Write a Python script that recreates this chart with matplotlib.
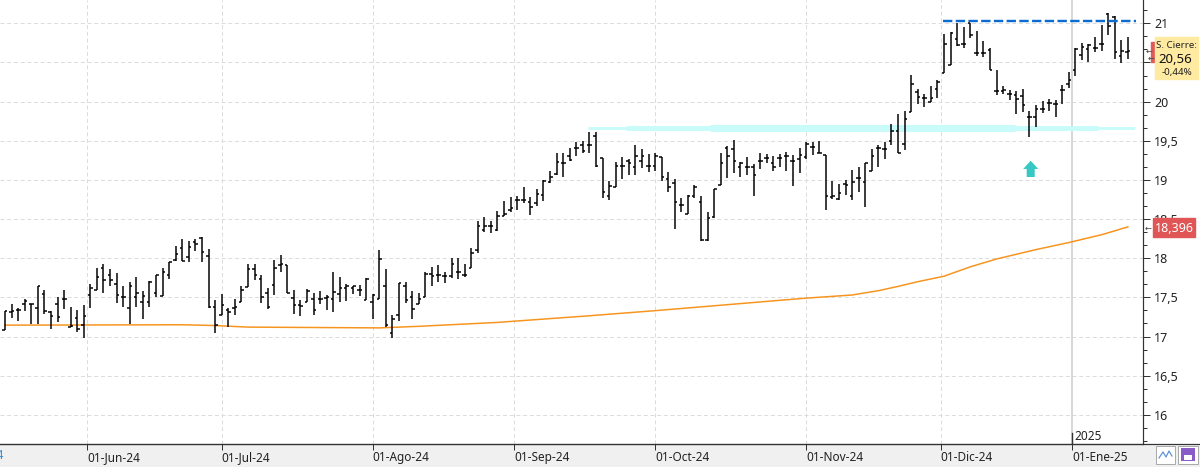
import matplotlib
matplotlib.use("Agg")
import matplotlib.pyplot as plt
import numpy as np
import pandas as pd
from matplotlib.patches import Rectangle, FancyArrow
from matplotlib.ticker import MultipleLocator, FuncFormatter

# daily OHLC, 15-May-24 .. 14-Jan-25
opens = [
    17.08, 17.31, 17.34, 17.42, 17.41, 17.36, 17.54, 17.31, 17.42, 17.48,
    17.12, 17.23, 17.15, 17.53, 17.59, 17.87, 17.79, 17.67, 17.50, 17.37,
    17.51, 17.44, 17.44, 17.55, 17.52, 17.79, 17.98, 18.13, 18.02, 18.21,
    18.26, 18.03, 17.38, 17.27, 17.34, 17.36, 17.44, 17.63, 17.86, 17.74,
    17.55, 17.66, 17.91, 17.91, 17.49, 17.40, 17.44, 17.48, 17.48, 17.49,
    17.48, 17.54, 17.62, 17.62, 17.60, 17.47, 17.44, 17.48, 17.65, 17.05,
    17.28, 17.65, 17.51, 17.42, 17.50, 17.80, 17.79, 17.77, 17.77, 17.82,
    17.79, 17.88, 18.10, 18.36, 18.41, 18.36, 18.54, 18.62, 18.74, 18.74,
    18.72, 18.70, 18.81, 18.97, 19.08, 19.21, 19.30, 19.41, 19.44, 19.45,
    19.56, 19.28, 18.79, 18.91, 19.18, 19.24, 19.17, 19.24, 19.18, 19.18,
    19.29, 19.01, 18.96, 18.68, 18.56, 18.79, 18.72, 18.23, 18.53, 18.93,
    19.41, 19.40, 19.17, 19.16, 19.17, 19.24, 19.28, 19.21, 19.28, 19.30,
    19.24, 19.27, 19.29, 19.42, 19.35, 19.32, 18.78, 18.76, 18.95, 18.80,
    19.03, 18.97, 19.11, 19.41, 19.40, 19.50, 19.62, 19.46, 19.87, 20.12,
    20.04, 20.00, 20.16, 20.37, 20.47, 20.80, 20.74, 21.00, 20.62, 20.62,
    20.66, 20.13, 20.13, 20.10, 20.08, 20.07, 19.81, 19.80, 19.90, 19.98,
    19.97, 20.15, 20.22, 20.41, 20.59, 20.67, 20.69, 20.74, 21.12, 21.08,
    20.58, 20.64,
]
highs = [
    17.33, 17.42, 17.36, 17.48, 17.42, 17.65, 17.59, 17.32, 17.50, 17.60,
    17.38, 17.34, 17.40, 17.67, 17.88, 17.92, 17.86, 17.81, 17.64, 17.69,
    17.76, 17.58, 17.71, 17.79, 17.88, 17.95, 18.16, 18.24, 18.22, 18.24,
    18.27, 18.12, 17.47, 17.54, 17.36, 17.48, 17.65, 17.93, 17.92, 17.78,
    17.62, 17.98, 18.04, 17.91, 17.59, 17.47, 17.61, 17.56, 17.58, 17.53,
    17.82, 17.76, 17.67, 17.65, 17.66, 17.75, 17.54, 18.11, 17.86, 17.27,
    17.68, 17.69, 17.58, 17.56, 17.82, 17.89, 17.91, 17.82, 18.00, 18.00,
    17.92, 18.13, 18.47, 18.52, 18.47, 18.60, 18.73, 18.78, 18.79, 18.91,
    18.78, 18.88, 19.00, 19.12, 19.35, 19.34, 19.41, 19.48, 19.50, 19.61,
    19.61, 19.28, 18.98, 19.23, 19.29, 19.27, 19.44, 19.39, 19.33, 19.34,
    19.29, 19.10, 19.01, 18.77, 18.81, 18.94, 18.79, 18.59, 18.88, 19.34,
    19.43, 19.51, 19.23, 19.29, 19.20, 19.34, 19.33, 19.30, 19.33, 19.36,
    19.32, 19.41, 19.48, 19.48, 19.50, 19.32, 18.99, 18.95, 19.00, 19.13,
    19.17, 19.21, 19.39, 19.44, 19.49, 19.72, 19.84, 19.88, 20.34, 20.16,
    20.10, 20.20, 20.28, 20.86, 20.89, 21.00, 20.95, 21.01, 20.90, 20.78,
    20.69, 20.40, 20.20, 20.15, 20.14, 20.16, 19.88, 19.96, 20.01, 20.03,
    20.02, 20.21, 20.38, 20.68, 20.75, 20.74, 20.82, 20.98, 21.13, 21.09,
    20.79, 20.82,
]
lows = [
    17.08, 17.24, 17.20, 17.32, 17.16, 17.16, 17.29, 17.09, 17.19, 17.35,
    17.12, 17.06, 16.98, 17.36, 17.59, 17.56, 17.65, 17.43, 17.38, 17.16,
    17.38, 17.22, 17.38, 17.51, 17.52, 17.74, 17.96, 17.97, 17.95, 18.09,
    17.95, 17.37, 17.05, 17.27, 17.12, 17.27, 17.44, 17.63, 17.72, 17.43,
    17.35, 17.53, 17.83, 17.55, 17.29, 17.26, 17.44, 17.28, 17.42, 17.34,
    17.31, 17.44, 17.45, 17.54, 17.52, 17.47, 17.22, 17.48, 17.12, 16.98,
    17.20, 17.43, 17.22, 17.42, 17.50, 17.65, 17.70, 17.68, 17.75, 17.73,
    17.76, 17.88, 18.07, 18.34, 18.32, 18.35, 18.54, 18.59, 18.62, 18.71,
    18.55, 18.67, 18.73, 18.96, 19.06, 19.04, 19.24, 19.31, 19.34, 19.35,
    19.17, 18.77, 18.74, 18.91, 19.01, 19.06, 19.06, 19.15, 19.10, 19.11,
    18.99, 18.85, 18.37, 18.59, 18.56, 18.77, 18.22, 18.22, 18.51, 18.93,
    19.02, 19.09, 19.04, 19.06, 18.80, 19.14, 19.21, 19.11, 19.17, 19.12,
    18.92, 19.09, 19.27, 19.32, 19.34, 18.62, 18.76, 18.74, 18.81, 18.74,
    18.85, 18.66, 19.11, 19.16, 19.27, 19.45, 19.34, 19.38, 19.87, 19.97,
    19.93, 20.00, 20.04, 20.36, 20.47, 20.71, 20.69, 20.81, 20.58, 20.57,
    20.41, 20.08, 20.10, 20.02, 19.84, 19.87, 19.55, 19.67, 19.85, 19.88,
    19.80, 19.97, 20.17, 20.33, 20.53, 20.51, 20.64, 20.65, 20.85, 20.54,
    20.49, 20.55,
]
closes = [
    17.32, 17.32, 17.34, 17.45, 17.42, 17.64, 17.32, 17.26, 17.25, 17.48,
    17.13, 17.09, 17.26, 17.62, 17.76, 17.72, 17.72, 17.53, 17.50, 17.64,
    17.55, 17.52, 17.69, 17.79, 17.83, 17.95, 18.06, 17.97, 18.14, 18.18,
    18.08, 17.38, 17.15, 17.40, 17.31, 17.38, 17.59, 17.86, 17.79, 17.50,
    17.38, 17.87, 17.92, 17.55, 17.40, 17.39, 17.58, 17.34, 17.48, 17.50,
    17.57, 17.62, 17.64, 17.64, 17.60, 17.74, 17.53, 17.99, 17.15, 17.22,
    17.68, 17.47, 17.35, 17.48, 17.80, 17.77, 17.79, 17.77, 17.93, 17.82,
    17.78, 18.07, 18.41, 18.41, 18.41, 18.54, 18.56, 18.64, 18.74, 18.74,
    18.65, 18.82, 18.99, 19.04, 19.23, 19.21, 19.26, 19.41, 19.37, 19.45,
    19.18, 18.84, 18.92, 19.18, 19.18, 19.21, 19.31, 19.30, 19.18, 19.31,
    19.04, 18.91, 18.72, 18.68, 18.80, 18.91, 18.23, 18.51, 18.88, 19.21,
    19.30, 19.24, 19.21, 19.16, 19.06, 19.24, 19.28, 19.17, 19.28, 19.30,
    19.24, 19.32, 19.46, 19.42, 19.35, 18.80, 18.80, 18.83, 18.93, 18.97,
    19.03, 19.21, 19.31, 19.41, 19.40, 19.62, 19.34, 19.78, 20.22, 20.06,
    20.04, 20.04, 20.25, 20.73, 20.88, 20.72, 20.74, 20.85, 20.62, 20.62,
    20.41, 20.13, 20.15, 20.10, 20.03, 19.96, 19.81, 19.91, 19.90, 19.98,
    19.97, 20.15, 20.28, 20.67, 20.70, 20.72, 20.69, 20.74, 20.97, 20.63,
    20.65, 20.65,
]

holidays = ["2024-12-25", "2024-12-26", "2025-01-01"]
month_starts = ["2024-06-01", "2024-07-01", "2024-08-01", "2024-09-01",
                "2024-10-01", "2024-11-01", "2024-12-01", "2025-01-01"]
month_labels = ["01-Jun-24", "01-Jul-24", "01-Ago-24", "01-Sep-24",
                "01-Oct-24", "01-Nov-24", "01-Dic-24", "01-Ene-25"]

# long moving average, read at a few bars
ma_idx = [0, 27, 32, 37, 57, 63, 75, 89, 99, 122, 129, 133, 136, 139, 143,
          147, 151, 157, 162, 167, 171]
ma_val = [17.145, 17.15, 17.14, 17.12, 17.11, 17.13, 17.18, 17.265, 17.33,
          17.49, 17.53, 17.585, 17.64, 17.70, 17.77, 17.89, 17.99, 18.11,
          18.20, 18.30, 18.40]

resistance = 21.03
support = 19.66
last_close_txt = "20,56"
last_change_txt = "-0,44%"
ma_last_txt = "18,396"

dates = pd.bdate_range("2024-05-15", "2025-01-14")
dates = dates[~dates.isin(pd.to_datetime(holidays))]
x = np.arange(len(dates))

month_pos = []
for m in month_starts:
    ts = pd.Timestamp(m)
    i = dates.searchsorted(ts)
    month_pos.append(i if dates[i] == ts else i - 0.5)

W, H = 1200, 467
PX = 0.72  # points per pixel at 100 dpi


def fpos(px, py):
    return px / W, 1 - py / H


fig = plt.figure(figsize=(12, 4.67), dpi=100)
fig.patches.append(Rectangle((0, 0), 1, 23 / H, transform=fig.transFigure,
                             color="#f0f0f0", zorder=-1))
ax = fig.add_axes([0, 23 / H, 1143 / W, 444 / H])
ax.set_xlim(-0.76, 173.3)
ax.set_ylim(15.627, 21.298)

# grid
for yv in np.arange(16, 21.01, 0.5):
    ax.axhline(yv, color="#dcdcdc", lw=PX, ls=(0, (4, 2.7)), zorder=1)
for p in month_pos[:-1]:
    ax.axvline(p, color="#dcdcdc", lw=PX, ls=(0, (4, 2.7)), zorder=1)
ax.axvline(month_pos[-1], color="#cfcfcf", lw=1.6 * PX, zorder=1)
ax.axvline(month_pos[-1], ymin=0, ymax=11 / 444, color="#333333", lw=1.4 * PX, zorder=2)
ax.text(month_pos[-1] + 0.3, 15.627 + 7.5 / 78.3, "2025", fontsize=8.5,
        color="#222222", ha="left", va="center", family="Noto Sans")

# support band and resistance line
ax.hlines(support, 88.8, 172.1, color="#c9fbfb", lw=3 * PX, zorder=2)
ax.hlines(support, 94.6, 166.4, color="#c9fbfb", lw=5 * PX, zorder=2)
ax.hlines(support, 107.4, 153.8, color="#c9fbfb", lw=7 * PX, zorder=2)
ax.hlines(resistance, 142.8, 172.2, color="#0b6bd0", lw=2.4 * PX,
          linestyles=(0, (3.9, 1.4)), zorder=5)

# moving average
ax.plot(ma_idx, ma_val, color="#f7941d", lw=1.5 * PX, zorder=3)

# OHLC bars
tk = 0.38
ax.vlines(x, lows, highs, color="black", lw=1.5 * PX, zorder=4)
ax.hlines(opens, x - tk, x, color="black", lw=1.5 * PX, zorder=4)
ax.hlines(closes, x, x + tk, color="black", lw=1.5 * PX, zorder=4)

# rebound arrow
ax.add_patch(FancyArrow(156.2, 19.037, 0, 0.208, width=1.22, head_width=2.3,
                        head_length=0.105, length_includes_head=True,
                        color="#38c8c4", lw=0, zorder=5))

# axes styling
for s in ["top", "left"]:
    ax.spines[s].set_visible(False)
ax.spines["right"].set_color("#333333")
ax.spines["right"].set_linewidth(1.2 * PX)
ax.spines["bottom"].set_color("#333333")
ax.spines["bottom"].set_linewidth(1.2 * PX)
ax.yaxis.tick_right()
ax.yaxis.set_major_locator(MultipleLocator(0.5))
ax.yaxis.set_minor_locator(MultipleLocator(1 / 6))
ax.yaxis.set_major_formatter(FuncFormatter(lambda v, p: f"{v:g}".replace(".", ",")))
ax.tick_params(axis="y", which="major", length=5 * PX * 1.4, width=PX,
               color="#333333", labelsize=9, labelcolor="#222222", pad=3)
ax.tick_params(axis="y", which="minor", length=4 * PX, width=PX, color="#333333")
ax.set_xticks(month_pos)
ax.set_xticklabels(month_labels)
ax.tick_params(axis="x", length=6 * PX, width=PX, color="#333333",
               labelsize=8.5, labelcolor="#222222", pad=0.5)
for lab in ax.get_xticklabels():
    lab.set_ha("left")
    lab.set_family("Noto Sans")
for lab in ax.get_yticklabels():
    lab.set_family("Noto Sans")

# bottom line across full width
fig.add_artist(plt.Line2D([0, 1], [1 - 444 / H] * 2, transform=fig.transFigure,
                          color="#333333", lw=1.2 * PX))

# partially visible previous month label
fig.text(*fpos(4, 456), "01-May-24", ha="right", va="center", fontsize=8.5,
         color="#3a8fd0", family="Noto Sans")

# last close box
fig.patches.append(Rectangle(fpos(1151, 62), 6 / W, 20 / H, transform=fig.transFigure,
                             color="#e05a5a", zorder=3))
fig.patches.append(Rectangle(fpos(1155, 79), 43 / W, 42 / H, transform=fig.transFigure,
                             color="#feeaa1", zorder=4))
fig.text(*fpos(1176, 45), "S. Cierre:", ha="center", va="center", fontsize=7,
         color="#222222", family="Noto Sans", zorder=5)
fig.text(*fpos(1175, 59), last_close_txt, ha="center", va="center", fontsize=9.5,
         color="#111111", family="Noto Sans", zorder=5)
fig.text(*fpos(1177, 73), last_change_txt, ha="center", va="center", fontsize=7,
         color="#222222", family="Noto Sans", zorder=5)
fig.text(*fpos(1149, 51), "←", ha="center", va="center", fontsize=6,
         color="#444444", zorder=5)
fig.text(*fpos(1151, 58), "←", ha="center", va="center", fontsize=6,
         color="#444444", zorder=5)

# moving average value box
fig.patches.append(Rectangle(fpos(1153, 237), 42 / W, 19 / H, transform=fig.transFigure,
                             color="#e05555", zorder=4))
fig.text(*fpos(1174, 228), ma_last_txt, ha="center", va="center", fontsize=9,
         color="white", family="Noto Sans", zorder=5)
fig.text(*fpos(1148, 228), "←", ha="center", va="center", fontsize=6,
         color="#444444", zorder=5)

# toolbar icons
fig.patches.append(Rectangle(fpos(1156, 464), 19 / W, 18 / H, transform=fig.transFigure,
                             facecolor="white", edgecolor="#aaaaaa", lw=PX, zorder=4))
fig.add_artist(plt.Line2D(np.array([1159, 1163, 1166, 1169, 1172]) / W,
                          1 - np.array([458, 452, 457, 451, 456]) / H,
                          transform=fig.transFigure, color="#5b8fd8", lw=1.2 * PX, zorder=5))
fig.patches.append(Rectangle(fpos(1178, 464), 20 / W, 18 / H, transform=fig.transFigure,
                             facecolor="white", edgecolor="#aaaaaa", lw=PX, zorder=4))
fig.patches.append(Rectangle(fpos(1181, 461), 14 / W, 13 / H, transform=fig.transFigure,
                             facecolor="#8a5cc8", edgecolor="none", zorder=5))
fig.patches.append(Rectangle(fpos(1184, 460), 8 / W, 5 / H, transform=fig.transFigure,
                             facecolor="white", edgecolor="none", zorder=6))

fig.savefig("out.png", dpi=100)
